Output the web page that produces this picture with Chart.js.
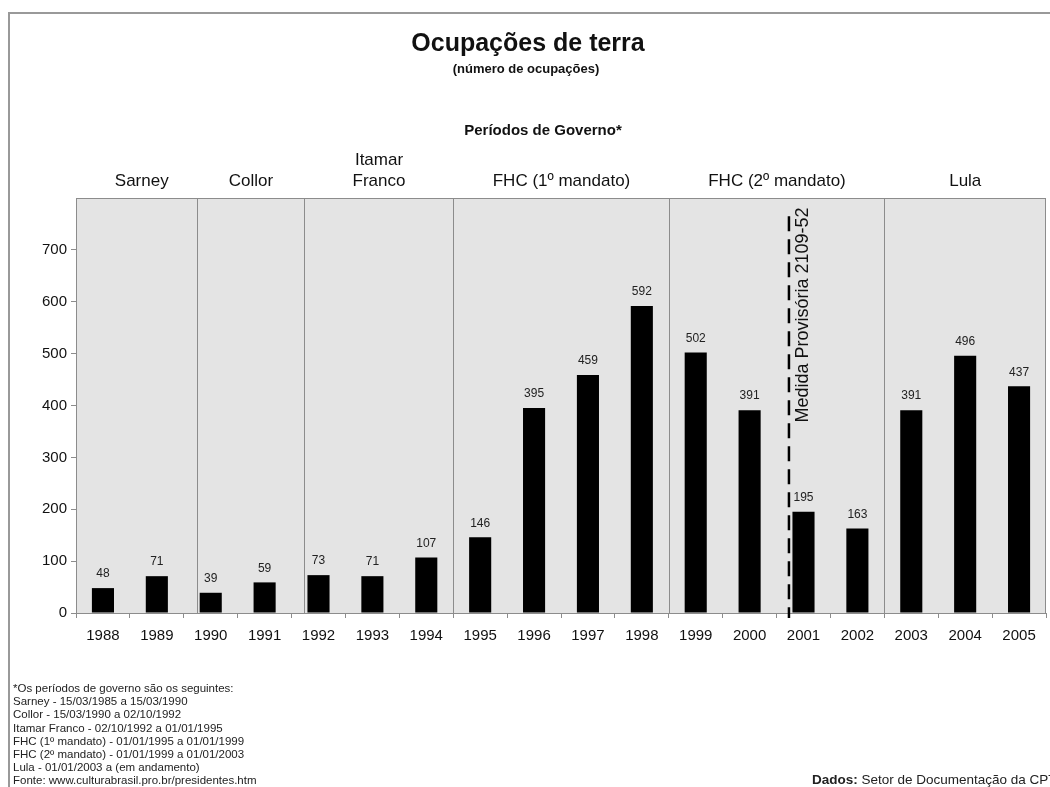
<!DOCTYPE html>
<html lang="pt">
<head>
<meta charset="utf-8">
<title>Ocupações de terra</title>
<script src="https://cdn.jsdelivr.net/npm/chart.js@4/dist/chart.umd.min.js"></script>
<style>
    html, body { margin: 0; padding: 0; background: #fff; overflow: hidden; }
    body { width: 1050px; height: 787px; position: relative; font-family: "Liberation Sans", Arial, sans-serif; color: #111; }
    #frame { position: absolute; left: 8px; top: 12px; width: 1100px; height: 800px; border-left: 2px solid #999; border-top: 2px solid #999; }
    #chart { position: absolute; left: 0; top: 0; }
    .txt { position: absolute; white-space: nowrap; }
    #title { left: 0; width: 1056px; top: 29px; text-align: center; font-size: 25px; font-weight: bold; line-height: 26px; }
    #subtitle { left: 0; width: 1052px; top: 61px; text-align: center; font-size: 13px; font-weight: bold; line-height: 16px; }
    #periods { left: 0; width: 1086px; top: 121px; text-align: center; font-size: 15px; font-weight: bold; line-height: 18px; }
    #notes { left: 13px; top: 682px; font-size: 11.5px; line-height: 13.2px; color: #222; }
    #source { left: 812px; top: 772px; font-size: 13.5px; line-height: 16px; color: #222; }
</style>
</head>
<body>
<div id="frame"></div>
<canvas id="chart" width="1050" height="787"></canvas>
<div class="txt" id="title">Ocupações de terra</div>
<div class="txt" id="subtitle">(número de ocupações)</div>
<div class="txt" id="periods">Períodos de Governo*</div>
<div class="txt" id="notes">
*Os períodos de governo são os seguintes:<br>
Sarney - 15/03/1985 a 15/03/1990<br>
Collor - 15/03/1990 a 02/10/1992<br>
Itamar Franco - 02/10/1992 a 01/01/1995<br>
FHC (1º mandato) - 01/01/1995 a 01/01/1999<br>
FHC (2º mandato) - 01/01/1999 a 01/01/2003<br>
Lula - 01/01/2003 a (em andamento)<br>
Fonte: www.culturabrasil.pro.br/presidentes.htm
</div>
<div class="txt" id="source"><b>Dados:</b> Setor de Documentação da CPT</div>

<script>
const years = ['1988', '1989', '1990', '1991', '1992', '1993', '1994', '1995', '1996',
    '1997', '1998', '1999', '2000', '2001', '2002', '2003', '2004', '2005'];
const occupations = [48, 71, 39, 59, 73, 71, 107, 146, 395, 459, 592, 502, 391, 195, 163, 391, 496, 437];

// governments and where their sections end, in category units (index of year)
const periodNames = ['Sarney', 'Collor', ['Itamar', 'Franco'], 'FHC (1º mandato)', 'FHC (2º mandato)', 'Lula'];
const periodDividers = [1.74, 3.74, 6.5, 10.5, 14.5];

// Medida Provisória marker (between 2000 and 2001)
const markerLabel = 'Medida Provisória 2109-52';
const markerAt = 12.73;
const markerTop = 765;

const yTicks = [0, 100, 200, 300, 400, 500, 600, 700];
const yMax = 800;

const FONT = '"Liberation Sans", Arial, sans-serif';
const GRID = '#8c8c8c';

function indexToPixel(x, v) {
    const i0 = Math.floor(v);
    return x.getPixelForValue(i0) + (v - i0) * (x.getPixelForValue(i0 + 1) - x.getPixelForValue(i0));
}

const chartDecor = {
    id: 'chartDecor',
    beforeDatasetsDraw(chart) {
        const { ctx, chartArea: a, scales: { x } } = chart;
        ctx.save();
        ctx.fillStyle = '#e4e4e4';
        ctx.fillRect(a.left, a.top, a.right - a.left, a.bottom - a.top);
        ctx.strokeStyle = GRID;
        ctx.lineWidth = 1;
        ctx.strokeRect(a.left + 0.5, a.top + 0.5, a.right - a.left - 1, a.bottom - a.top);

        // period dividers
        const edges = [a.left];
        periodDividers.forEach(d => {
            const px = Math.round(indexToPixel(x, d)) + 0.5;
            edges.push(px);
            ctx.beginPath();
            ctx.moveTo(px, a.top);
            ctx.lineTo(px, a.bottom);
            ctx.stroke();
        });
        edges.push(a.right);

        // period labels
        ctx.fillStyle = '#111';
        ctx.font = '17px ' + FONT;
        ctx.textAlign = 'center';
        ctx.textBaseline = 'middle';
        periodNames.forEach((name, k) => {
            const cx = (edges[k] + edges[k + 1]) / 2 + (k === 0 ? 5 : 0);
            if (Array.isArray(name)) {
                ctx.fillText(name[0], cx, 160);
                ctx.fillText(name[1], cx, 181);
            } else {
                ctx.fillText(name, cx, 181);
            }
        });
        ctx.restore();
    },
    afterDatasetsDraw(chart) {
        const { ctx, scales: { x, y } } = chart;
        ctx.save();

        // value labels
        ctx.fillStyle = '#222';
        ctx.font = '12px ' + FONT;
        ctx.textAlign = 'center';
        ctx.textBaseline = 'bottom';
        chart.getDatasetMeta(0).data.forEach((bar, i) => {
            ctx.fillText(String(occupations[i]), bar.x, bar.y - 8);
        });

        // dashed marker
        const mx = indexToPixel(x, markerAt);
        ctx.strokeStyle = '#000';
        ctx.lineWidth = 2.5;
        ctx.setLineDash([15, 8]);
        ctx.beginPath();
        ctx.moveTo(mx, y.getPixelForValue(markerTop));
        ctx.lineTo(mx, y.bottom + 5);
        ctx.stroke();
        ctx.setLineDash([]);

        ctx.translate(mx + 14, 315);
        ctx.rotate(-Math.PI / 2);
        ctx.fillStyle = '#111';
        ctx.font = '18px ' + FONT;
        ctx.textAlign = 'center';
        ctx.textBaseline = 'middle';
        ctx.fillText(markerLabel, 0, 0);
        ctx.restore();
    }
};

new Chart(document.getElementById('chart'), {
    type: 'bar',
    data: {
        labels: years,
        datasets: [{
            data: occupations,
            backgroundColor: '#000',
            borderWidth: 0,
            barPercentage: 0.41,
            categoryPercentage: 1
        }]
    },
    options: {
        responsive: false,
        animation: false,
        events: [],
        layout: { padding: { top: 198, right: 4, bottom: 0, left: 0 } },
        plugins: {
            legend: { display: false },
            tooltip: { enabled: false }
        },
        scales: {
            x: {
                grid: { offset: true, drawOnChartArea: false, tickLength: 5, color: GRID },
                border: { color: GRID },
                ticks: { color: '#111', font: { family: FONT, size: 15 }, padding: 9, maxRotation: 0, autoSkip: false },
                afterFit(scale) { scale.height = 174; }
            },
            y: {
                min: 0,
                max: yMax,
                grid: { drawOnChartArea: false, tickLength: 5, color: GRID },
                border: { color: GRID },
                ticks: { color: '#111', font: { family: FONT, size: 15 }, padding: 4 },
                afterBuildTicks(scale) { scale.ticks = yTicks.map(v => ({ value: v })); },
                afterFit(scale) { scale.width = 76; }
            }
        }
    },
    plugins: [chartDecor]
});
</script>
</body>
</html>
